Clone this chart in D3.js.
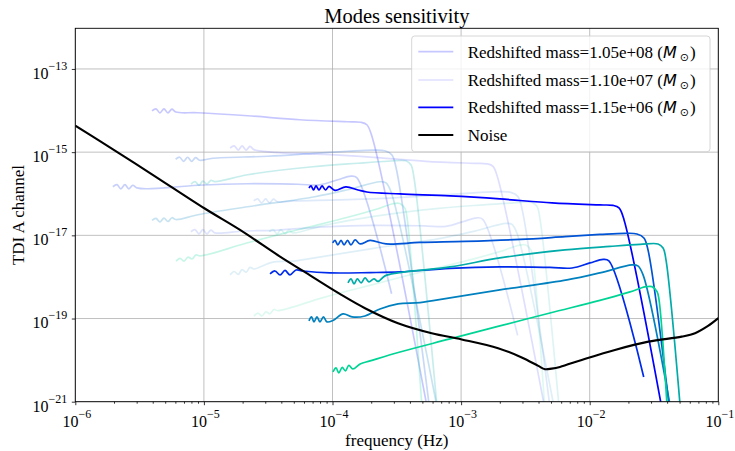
<!DOCTYPE html>
<html><head><meta charset="utf-8">
<script src="https://cdn.jsdelivr.net/npm/d3@7"></script>
<style>body{margin:0;background:#fff} svg{display:block} svg text{font-family:'Liberation Serif','Times New Roman',Times,serif}</style>
</head><body><svg id="c" width="735" height="451"></svg>
<script>
// ---------------- data ----------------
const massLabels = ["1.05e+08", "1.10e+07", "1.15e+06"];
const massAlpha = [0.22, 0.13, 1];
const modeColors = ["#0000ff", "#002bea", "#0054d5", "#0080bf", "#00abaa", "#00d495"];
const xTicks = [1e-6, 1e-5, 1e-4, 1e-3, 1e-2, 1e-1];
const yTicks = [1e-21, 1e-19, 1e-17, 1e-15, 1e-13];
const xMinor = [2e-6,3e-6,4e-6,5e-6,6e-6,7e-6,8e-6,9e-6,2e-5,3e-5,4e-5,5e-5,6e-5,7e-5,8e-5,9e-5,2e-4,3e-4,4e-4,5e-4,6e-4,7e-4,8e-4,9e-4,2e-3,3e-3,4e-3,5e-3,6e-3,7e-3,8e-3,9e-3,2e-2,3e-2,4e-2,5e-2,6e-2,7e-2,8e-2,9e-2];

// mass 1.05e+08 : [frequency Hz, amplitude]
const m1_A = [[3.95e-6,9.8e-15],[4.24e-6,1.10e-14],[4.55e-6,8.8e-15],[4.89e-6,1.10e-14],[5.25e-6,8.8e-15],[5.64e-6,1.08e-14],[6.06e-6,9.2e-15],[8.98e-6,8.85e-15],[2.19e-5,7.50e-15],[5.57e-5,6.01e-15],[1.314e-4,5.38e-15],[1.66e-4,5.24e-15],[1.85e-4,4.56e-15],[2.03e-4,2.35e-15],[5.53e-4,5.7e-22]];
const m1_B = [[1.96e-6,1.47e-16],[2.11e-6,1.65e-16],[2.26e-6,1.31e-16],[2.43e-6,1.65e-16],[2.61e-6,1.31e-16],[2.80e-6,1.60e-16],[3.01e-6,1.38e-16],[3.67e-6,1.32e-16],[8.98e-6,1.60e-16],[2.19e-5,1.74e-16],[5.38e-5,1.69e-16],[7.98e-5,1.64e-16],[1.10e-4,2.17e-16],[1.39e-4,2.64e-16],[1.544e-4,2.43e-16],[2.88e-4,3.94e-19]];
const m1_C = [[6.03e-6,6.75e-16],[6.48e-6,7.55e-16],[6.96e-6,6.0e-16],[7.47e-6,7.55e-16],[8.02e-6,6.0e-16],[8.62e-6,7.4e-16],[9.25e-6,6.4e-16],[1.172e-5,7.14e-16],[3.14e-5,7.97e-16],[7.03e-5,9.30e-16],[1.314e-4,1.05e-15],[2.06e-4,1.12e-15],[2.55e-4,1.08e-15],[2.89e-4,8.66e-16],[3.11e-4,4.46e-16],[5.73e-4,5.7e-22]];
const m1_D = [[3.95e-6,2.28e-17],[4.24e-6,2.55e-17],[4.55e-6,2.1e-17],[4.89e-6,2.6e-17],[5.25e-6,2.15e-17],[5.64e-6,2.65e-17],[6.06e-6,2.4e-17],[8.98e-6,3.13e-17],[2.19e-5,4.87e-17],[7.29e-5,8.47e-17],[1.314e-4,1.25e-16],[2.33e-4,1.94e-16],[2.60e-4,1.84e-16],[2.85e-4,1.12e-16],[6.61e-4,5.7e-22]];
const m1_E = [[7.93e-6,1.71e-16],[8.52e-6,1.95e-16],[9.15e-6,1.62e-16],[9.82e-6,2.0e-16],[1.055e-5,1.72e-16],[1.133e-5,2.1e-16],[1.217e-5,1.95e-16],[2.19e-5,2.86e-16],[7.03e-5,4.46e-16],[1.577e-4,5.41e-16],[2.69e-4,6.04e-16],[3.72e-4,6.21e-16],[4.07e-4,4.98e-16],[4.29e-4,2.56e-16],[6.55e-4,5.7e-22]];
const m1_F = [[6.07e-6,2.38e-18],[6.52e-6,2.8e-18],[7.00e-6,2.4e-18],[7.52e-6,3.0e-18],[8.08e-6,2.7e-18],[8.68e-6,3.4e-18],[9.32e-6,3.2e-18],[2.19e-5,6.64e-18],[5.38e-5,1.36e-17],[1.314e-4,2.72e-17],[2.26e-4,4.36e-17],[2.95e-4,5.75e-17],[3.34e-4,5.85e-17],[3.66e-4,4.43e-17],[3.79e-4,2.80e-17],[4.99e-4,5.7e-22]];

// mass 1.10e+07
const m2_A = [[1.60e-5,1.26e-15],[1.72e-5,1.41e-15],[1.85e-5,1.12e-15],[1.98e-5,1.41e-15],[2.13e-5,1.12e-15],[2.28e-5,1.38e-15],[2.45e-5,1.15e-15],[3.50e-5,9.89e-16],[8.57e-5,8.85e-16],[2.09e-4,7.50e-16],[5.32e-4,6.01e-16],[1.254e-3,5.38e-16],[1.59e-3,5.24e-16],[1.77e-3,4.56e-16],[1.93e-3,2.35e-16],[4.53e-3,5.7e-22]];
const m2_B = [[7.93e-6,1.22e-17],[8.52e-6,1.37e-17],[9.15e-6,1.09e-17],[9.82e-6,1.37e-17],[1.055e-5,1.09e-17],[1.133e-5,1.34e-17],[1.217e-5,1.15e-17],[2.05e-5,1.27e-17],[3.50e-5,1.32e-17],[8.57e-5,1.60e-17],[2.09e-4,1.74e-17],[5.13e-4,1.69e-17],[7.62e-4,1.64e-17],[1.050e-3,2.17e-17],[1.327e-3,2.64e-17],[1.473e-3,2.43e-17],[2.75e-3,3.94e-20]];
const m2_C = [[2.44e-5,6.75e-17],[2.62e-5,7.55e-17],[2.81e-5,6.0e-17],[3.02e-5,7.55e-17],[3.24e-5,6.0e-17],[3.48e-5,7.4e-17],[3.74e-5,6.4e-17],[5.01e-5,6.75e-17],[1.118e-4,7.14e-17],[3.00e-4,7.97e-17],[6.71e-4,9.30e-17],[1.254e-3,1.05e-16],[1.96e-3,1.12e-16],[2.43e-3,1.08e-16],[2.76e-3,8.66e-17],[2.97e-3,4.46e-17],[4.96e-3,5.7e-22]];
const m2_D = [[1.60e-5,1.12e-18],[1.72e-5,1.35e-18],[1.85e-5,1.15e-18],[1.98e-5,1.5e-18],[2.13e-5,1.3e-18],[2.28e-5,1.7e-18],[2.45e-5,1.55e-18],[3.38e-5,2.24e-18],[5.01e-5,2.41e-18],[8.57e-5,3.13e-18],[2.09e-4,4.87e-18],[6.96e-4,8.47e-18],[1.254e-3,1.25e-17],[2.23e-3,1.94e-17],[2.48e-3,1.84e-17],[2.72e-3,1.12e-17],[5.37e-3,5.7e-22]];
const m2_E = [[3.21e-5,1.22e-17],[3.45e-5,1.37e-17],[3.70e-5,1.09e-17],[3.97e-5,1.37e-17],[4.27e-5,1.09e-17],[4.58e-5,1.34e-17],[4.92e-5,1.15e-17],[8.57e-5,1.74e-17],[2.09e-4,2.86e-17],[6.71e-4,4.46e-17],[1.505e-3,5.41e-17],[2.57e-3,6.04e-17],[3.55e-3,6.21e-17],[3.89e-3,4.98e-17],[4.10e-3,2.56e-17],[5.82e-3,5.7e-22]];
const m2_F = [[2.45e-5,1.14e-19],[2.63e-5,1.35e-19],[2.83e-5,1.15e-19],[3.03e-5,1.45e-19],[3.26e-5,1.3e-19],[3.50e-5,1.65e-19],[3.76e-5,1.55e-19],[8.57e-5,3.23e-19],[2.09e-4,6.64e-19],[5.13e-4,1.36e-18],[1.254e-3,2.72e-18],[2.15e-3,4.36e-18],[2.81e-3,5.75e-18],[3.19e-3,5.85e-18],[3.49e-3,4.43e-18],[3.62e-3,2.80e-18],[4.49e-3,5.7e-22]];

// mass 1.15e+06
const m3_A = [[6.56e-5,1.38e-16],[6.81e-5,1.54e-16],[7.12e-5,1.23e-16],[7.44e-5,1.54e-16],[7.85e-5,1.23e-16],[8.29e-5,1.54e-16],[8.82e-5,1.23e-16],[9.39e-5,1.50e-16],[1.046e-4,1.20e-16],[1.27e-4,1.46e-16],[1.58e-4,1.23e-16],[1.85e-4,1.10e-16],[3.35e-4,9.89e-17],[8.20e-4,8.85e-17],[2.00e-3,7.50e-17],[5.09e-3,6.01e-17],[1.20e-2,5.38e-17],[1.52e-2,5.24e-17],[1.69e-2,4.56e-17],[1.85e-2,2.35e-17],[3.60e-2,8.4e-22]];
const m3_B = [[3.27e-5,1.18e-18],[3.57e-5,1.39e-18],[3.91e-5,1.12e-18],[4.27e-5,1.43e-18],[4.67e-5,1.12e-18],[5.20e-5,1.47e-18],[5.90e-5,1.39e-18],[9.56e-5,1.25e-18],[1.96e-4,1.27e-18],[3.35e-4,1.32e-18],[8.20e-4,1.60e-18],[2.00e-3,1.74e-18],[4.91e-3,1.69e-18],[7.29e-3,1.64e-18],[1.005e-2,2.17e-18],[1.27e-2,2.64e-18],[1.41e-2,2.43e-18],[2.63e-2,3.94e-21]];
const m3_C = [[1.004e-4,6.57e-18],[1.046e-4,7.54e-18],[1.10e-4,5.88e-18],[1.165e-4,7.54e-18],[1.23e-4,5.88e-18],[1.31e-4,7.54e-18],[1.39e-4,5.88e-18],[1.50e-4,7.75e-18],[1.64e-4,6.21e-18],[1.96e-4,7.54e-18],[2.61e-4,6.21e-18],[4.79e-4,6.75e-18],[1.07e-3,7.14e-18],[2.87e-3,7.97e-18],[6.42e-3,9.30e-18],[1.20e-2,1.05e-17],[1.88e-2,1.12e-17],[2.33e-2,1.08e-17],[2.64e-2,8.66e-18],[2.84e-2,4.46e-18],[4.14e-2,8.4e-22]];
const m3_D = [[6.56e-5,8.76e-20],[6.87e-5,1.09e-19],[7.18e-5,8.29e-20],[7.57e-5,1.09e-19],[7.99e-5,8.29e-20],[8.51e-5,1.09e-19],[9.06e-5,8.29e-20],[1.009e-4,9.00e-20],[1.21e-4,1.29e-19],[1.42e-4,1.09e-19],[1.79e-4,1.15e-19],[2.34e-4,1.70e-19],[3.23e-4,2.24e-19],[4.79e-4,2.41e-19],[8.20e-4,3.13e-19],[2.00e-3,4.87e-19],[6.66e-3,8.47e-19],[1.20e-2,1.25e-18],[2.13e-2,1.94e-18],[2.37e-2,1.84e-18],[2.60e-2,1.12e-18],[4.21e-2,8.4e-22]];
const m3_E = [[1.32e-4,7.17e-19],[1.393e-4,8.95e-19],[1.47e-4,6.79e-19],[1.56e-4,8.95e-19],[1.67e-4,7.17e-19],[1.79e-4,9.46e-19],[1.92e-4,7.58e-19],[2.10e-4,8.95e-19],[2.26e-4,7.79e-19],[2.56e-4,1.06e-18],[3.23e-4,1.25e-18],[8.20e-4,1.74e-18],[2.00e-3,2.86e-18],[6.42e-3,4.46e-18],[1.44e-2,5.41e-18],[2.46e-2,6.04e-18],[3.40e-2,6.21e-18],[3.72e-2,4.98e-18],[3.92e-2,2.56e-18],[5.04e-2,8.4e-22]];
const m3_F = [[1.009e-4,5.20e-21],[1.065e-4,6.49e-21],[1.12e-4,4.92e-21],[1.19e-4,6.67e-21],[1.26e-4,5.50e-21],[1.34e-4,7.46e-21],[1.44e-4,6.14e-21],[1.64e-4,8.10e-21],[1.96e-4,9.57e-21],[3.35e-4,1.57e-20],[8.20e-4,3.23e-20],[2.00e-3,6.64e-20],[4.91e-3,1.36e-19],[1.20e-2,2.72e-19],[2.06e-2,4.36e-19],[2.69e-2,5.75e-19],[3.05e-2,5.85e-19],[3.34e-2,4.43e-19],[3.46e-2,2.80e-19],[3.99e-2,8.4e-22]];

// noise curve
const noiseF = [1e-6,1.556e-6,3.81e-6,1.007e-5,1.91e-5,3.91e-5,5.90e-5,1.14e-4,1.79e-4,3.23e-4,5.91e-4,1.011e-3,1.94e-3,2.96e-3,3.98e-3,4.49e-3,5.06e-3,5.87e-3,8.67e-3,1.57e-2,2.86e-2,5.19e-2,6.59e-2,8.32e-2,1e-1];
const noiseA = [4.34e-15,1.85e-15,3.15e-16,4.48e-17,1.35e-17,3.08e-18,1.39e-18,3.90e-19,1.77e-19,7.71e-20,4.43e-20,3.14e-20,1.93e-20,1.16e-20,7.26e-21,6.04e-21,6.25e-21,6.86e-21,1.01e-20,1.76e-20,2.78e-20,3.67e-20,4.43e-20,6.64e-20,1.02e-19];

const massSets = [
  [m1_A, m1_B, m1_C, m1_D, m1_E, m1_F],
  [m2_A, m2_B, m2_C, m2_D, m2_E, m2_F],
  [m3_A, m3_B, m3_C, m3_D, m3_E, m3_F]
];

// ---------------- drawing ----------------
const W = 735, H = 451, L = 75.3, R = 718.3, T = 28.3, B = 401.7;
const SERIF = "'Liberation Serif','Times New Roman',Times,serif";
const x = d3.scaleLog().domain([1e-6, 1e-1]).range([L, R]);
const y = d3.scaleLog().domain([1e-21, 9.5e-13]).range([B, T]);

const svg = d3.select("#c").attr("font-family", SERIF);
svg.append("rect").attr("width", W).attr("height", H).attr("fill", "#fff");
svg.append("defs").append("clipPath").attr("id", "clip")
  .append("rect").attr("x", L).attr("y", T).attr("width", R - L).attr("height", B - T);

// grid
const grid = svg.append("g").attr("stroke", "#b0b0b0").attr("stroke-width", 0.8);
grid.selectAll("line.gx").data(xTicks).join("line").attr("class", "gx")
  .attr("x1", d => x(d)).attr("x2", d => x(d)).attr("y1", T).attr("y2", B);
grid.selectAll("line.gy").data(yTicks).join("line").attr("class", "gy")
  .attr("x1", L).attr("x2", R).attr("y1", d => y(d)).attr("y2", d => y(d));

// curves
const line = d3.line().x(d => x(d[0])).y(d => y(d[1])).curve(d3.curveCatmullRom.alpha(0.5));
const plot = svg.append("g").attr("clip-path", "url(#clip)").attr("fill", "none");
massSets.forEach((set, si) => {
  set.forEach((pts, mi) => {
    plot.append("path").attr("d", line(pts))
      .attr("stroke", modeColors[mi]).attr("stroke-opacity", massAlpha[si])
      .attr("stroke-width", 1.7).attr("stroke-linejoin", "round");
  });
});
const noisePts = noiseF.map((f, i) => [f, noiseA[i]]);
plot.append("path").attr("d", line(noisePts)).attr("stroke", "#000").attr("stroke-width", 2.1);

// axes
const xAx = svg.append("g").attr("transform", `translate(0,${B})`)
  .call(d3.axisBottom(x).tickValues(xTicks).tickSize(3.5).tickFormat(() => ""));
const xAxMinor = svg.append("g").attr("transform", `translate(0,${B})`)
  .call(d3.axisBottom(x).tickValues(xMinor).tickSize(2).tickFormat(() => ""));
const yAx = svg.append("g").attr("transform", `translate(${L},0)`)
  .call(d3.axisLeft(y).tickValues(yTicks).tickSize(3.5).tickFormat(() => ""));
[xAx, xAxMinor, yAx].forEach(a => {
  a.select(".domain").remove();
  a.selectAll(".tick line").attr("stroke", "#000").attr("stroke-width", 0.8);
  a.attr("font-family", SERIF).attr("font-size", 16);
});
xAxMinor.selectAll(".tick text").remove();
xAx.selectAll(".tick text").each(function(d) {
  const t = d3.select(this).text(null).attr("dy", null).attr("y", 25).attr("x", 1)
    .attr("fill", "#000").attr("text-anchor", "middle");
  t.append("tspan").text("10");
  t.append("tspan").attr("font-size", 12).attr("dy", -9).text("\u2212" + Math.round(-Math.log10(d)));
});
yAx.selectAll(".tick text").each(function(d) {
  const t = d3.select(this).text(null).attr("dy", null).attr("x", -8).attr("y", 9.3)
    .attr("fill", "#000").attr("text-anchor", "end");
  t.append("tspan").text("10");
  t.append("tspan").attr("font-size", 12).attr("dy", -9).text("\u2212" + Math.round(-Math.log10(d)));
});

// frame
svg.append("rect").attr("x", L).attr("y", T).attr("width", R - L).attr("height", B - T)
  .attr("fill", "none").attr("stroke", "#000").attr("stroke-width", 0.9);

// labels
svg.append("text").attr("x", (L + R) / 2).attr("y", 23.3).attr("text-anchor", "middle")
  .attr("font-size", 20.5).text("Modes sensitivity");
svg.append("text").attr("x", (L + R) / 2).attr("y", 446).attr("text-anchor", "middle")
  .attr("font-size", 17).text("frequency (Hz)");
svg.append("text").attr("transform", `translate(24,${(T + B) / 2}) rotate(-90)`)
  .attr("text-anchor", "middle").attr("font-size", 17).text("TDI A channel");

// legend
const lg = svg.append("g");
lg.append("rect").attr("x", 411.7).attr("y", 36).attr("width", 298.3).attr("height", 115.7)
  .attr("rx", 3).attr("fill", "#fff").attr("fill-opacity", 0.8)
  .attr("stroke", "#cccccc").attr("stroke-width", 0.8);
const legendItems = massLabels.map((m, i) => ({ label: m, color: modeColors[0], alpha: massAlpha[i], noise: false }))
  .concat([{ label: "Noise", color: "#000", alpha: 1, noise: true }]);
const rowY = [51.7, 80, 107.3, 135];
legendItems.forEach((it, i) => {
  lg.append("line").attr("x1", 418.3).attr("x2", 453.3).attr("y1", rowY[i]).attr("y2", rowY[i])
    .attr("stroke", it.color).attr("stroke-opacity", it.alpha).attr("stroke-width", it.noise ? 2.1 : 1.7);
  const t = lg.append("text").attr("x", 467.7).attr("y", rowY[i] + 6).attr("font-size", 17);
  if (it.noise) { t.text("Noise"); return; }
  t.append("tspan").text("Redshifted mass=" + it.label + " (");
  t.append("tspan").style("font-family", "'DejaVu Sans',sans-serif").style("font-style", "italic").attr("font-size", 16).text("M");
  t.append("tspan").style("font-family", "'DejaVu Sans',sans-serif").attr("font-size", 11).attr("dx", 3).attr("dy", 3).text("\u2299");
  t.append("tspan").attr("dy", -3).attr("dx", 1).text(")");
});
</script></body></html>
